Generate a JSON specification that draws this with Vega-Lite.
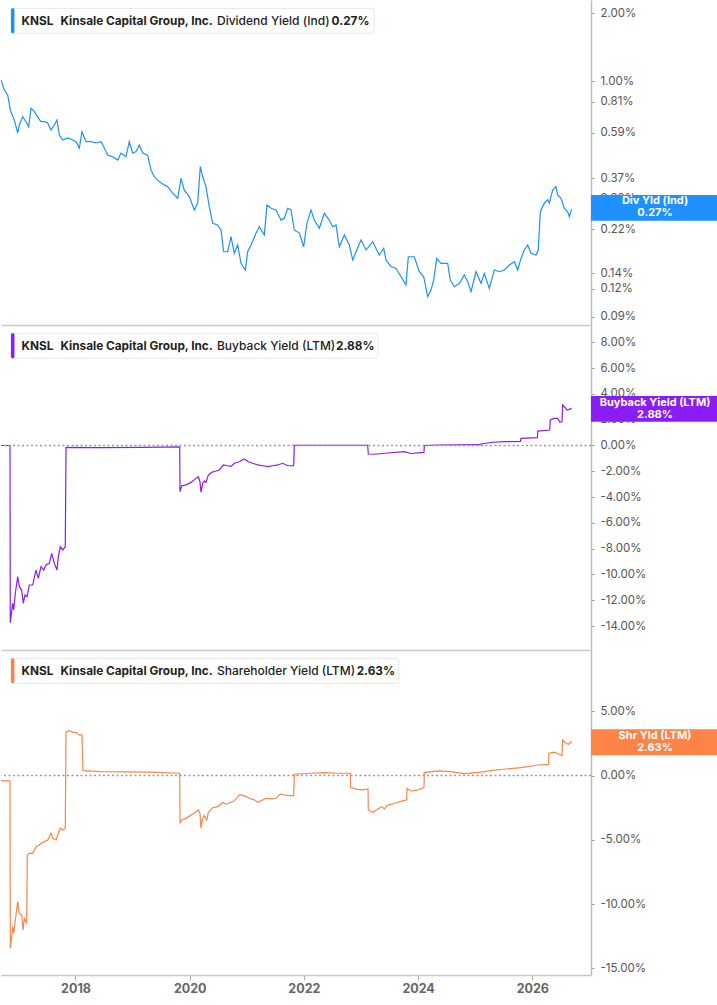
{
"$schema": "https://vega.github.io/schema/vega-lite/v6.json",
"padding": 0,
"background": "white",
"spacing": 0,
"config": {"view": {"stroke": null}, "font": "Inter",
 "axis": {"grid": false, "labelOverlap": false, "domainColor": "#bdbdbd", "domainWidth": 1.5, "tickColor": "#999999", "labelColor": "#555555", "labelFont": "Inter", "labelFontSize": 11.5}},
"datasets": {
"div": [
{"t":2016.695,"v":1.010},{"t":2016.753,"v":0.912},{"t":2016.813,"v":0.867},{"t":2016.858,"v":0.744},{"t":2016.928,"v":0.671},{"t":2016.988,"v":0.588},{"t":2017.016,"v":0.638},{"t":2017.075,"v":0.694},{"t":2017.133,"v":0.660},{"t":2017.180,"v":0.627},{"t":2017.221,"v":0.757},{"t":2017.279,"v":0.731},{"t":2017.338,"v":0.692},{"t":2017.396,"v":0.660},{"t":2017.454,"v":0.660},{"t":2017.513,"v":0.651},{"t":2017.571,"v":0.606},{"t":2017.629,"v":0.638},{"t":2017.676,"v":0.671},{"t":2017.716,"v":0.576},{"t":2017.776,"v":0.547},{"t":2017.863,"v":0.559},{"t":2017.951,"v":0.547},{"t":2018.009,"v":0.538},{"t":2018.067,"v":0.504},{"t":2018.114,"v":0.596},{"t":2018.184,"v":0.538},{"t":2018.271,"v":0.538},{"t":2018.359,"v":0.531},{"t":2018.447,"v":0.538},{"t":2018.504,"v":0.504},{"t":2018.564,"v":0.469},{"t":2018.651,"v":0.461},{"t":2018.739,"v":0.446},{"t":2018.797,"v":0.479},{"t":2018.884,"v":0.461},{"t":2018.942,"v":0.538},{"t":2019.002,"v":0.479},{"t":2019.060,"v":0.486},{"t":2019.117,"v":0.520},{"t":2019.177,"v":0.479},{"t":2019.264,"v":0.469},{"t":2019.322,"v":0.403},{"t":2019.380,"v":0.376},{"t":2019.468,"v":0.357},{"t":2019.555,"v":0.346},{"t":2019.615,"v":0.340},{"t":2019.702,"v":0.318},{"t":2019.790,"v":0.302},{"t":2019.848,"v":0.370},{"t":2019.905,"v":0.328},{"t":2019.993,"v":0.307},{"t":2020.081,"v":0.268},{"t":2020.140,"v":0.2875},{"t":2020.186,"v":0.417},{"t":2020.228,"v":0.376},{"t":2020.285,"v":0.340},{"t":2020.343,"v":0.277},{"t":2020.403,"v":0.2337},{"t":2020.490,"v":0.2297},{"t":2020.548,"v":0.2183},{"t":2020.595,"v":0.1748},{"t":2020.665,"v":0.1748},{"t":2020.723,"v":0.2038},{"t":2020.781,"v":0.1720},{"t":2020.841,"v":0.1873},{"t":2020.898,"v":0.1553},{"t":2020.974,"v":0.1450},{"t":2021.015,"v":0.1748},{"t":2021.074,"v":0.1873},{"t":2021.161,"v":0.2110},{"t":2021.219,"v":0.2258},{"t":2021.307,"v":0.2074},{"t":2021.354,"v":0.282},{"t":2021.424,"v":0.2724},{"t":2021.511,"v":0.268},{"t":2021.599,"v":0.2416},{"t":2021.657,"v":0.246},{"t":2021.716,"v":0.2724},{"t":2021.774,"v":0.268},{"t":2021.832,"v":0.2183},{"t":2021.920,"v":0.2116},{"t":2021.996,"v":0.1840},{"t":2022.054,"v":0.2344},{"t":2022.124,"v":0.268},{"t":2022.182,"v":0.2416},{"t":2022.270,"v":0.2221},{"t":2022.357,"v":0.259},{"t":2022.445,"v":0.2416},{"t":2022.504,"v":0.2258},{"t":2022.562,"v":0.2297},{"t":2022.620,"v":0.1840},{"t":2022.708,"v":0.2074},{"t":2022.795,"v":0.1873},{"t":2022.855,"v":0.1606},{"t":2022.912,"v":0.1748},{"t":2023.000,"v":0.1970},{"t":2023.088,"v":0.1779},{"t":2023.205,"v":0.1936},{"t":2023.320,"v":0.1690},{"t":2023.398,"v":0.1811},{"t":2023.438,"v":0.1606},{"t":2023.526,"v":0.1500},{"t":2023.613,"v":0.1476},{"t":2023.701,"v":0.1354},{"t":2023.788,"v":0.1245},{"t":2023.829,"v":0.1661},{"t":2023.933,"v":0.1661},{"t":2024.021,"v":0.1425},{"t":2024.098,"v":0.1354},{"t":2024.168,"v":0.1104},{"t":2024.226,"v":0.1182},{"t":2024.273,"v":0.1309},{"t":2024.326,"v":0.1634},{"t":2024.401,"v":0.1553},{"t":2024.518,"v":0.1553},{"t":2024.564,"v":0.1309},{"t":2024.634,"v":0.1223},{"t":2024.722,"v":0.1266},{"t":2024.809,"v":0.1378},{"t":2024.869,"v":0.1287},{"t":2024.927,"v":0.1162},{"t":2025.014,"v":0.1425},{"t":2025.102,"v":0.1266},{"t":2025.160,"v":0.1402},{"t":2025.247,"v":0.1203},{"t":2025.335,"v":0.1450},{"t":2025.422,"v":0.1425},{"t":2025.510,"v":0.1450},{"t":2025.597,"v":0.1526},{"t":2025.685,"v":0.1578},{"t":2025.744,"v":0.1450},{"t":2025.802,"v":0.1634},{"t":2025.860,"v":0.1779},{"t":2025.919,"v":0.1873},{"t":2025.977,"v":0.1720},{"t":2026.065,"v":0.1690},{"t":2026.105,"v":0.1779},{"t":2026.140,"v":0.263},{"t":2026.210,"v":0.287},{"t":2026.270,"v":0.297},{"t":2026.298,"v":0.2875},{"t":2026.357,"v":0.328},{"t":2026.415,"v":0.340},{"t":2026.445,"v":0.312},{"t":2026.503,"v":0.302},{"t":2026.561,"v":0.2724},{"t":2026.620,"v":0.263},{"t":2026.648,"v":0.250},{"t":2026.690,"v":0.27}
],
"bb": [
{"t":2016.695,"v":0},{"t":2016.853,"v":0},{"t":2016.858,"v":-13.74},{"t":2016.870,"v":-13.28},{"t":2016.900,"v":-12.24},{"t":2016.918,"v":-12.76},{"t":2016.946,"v":-11.46},{"t":2016.988,"v":-10.17},{"t":2017.016,"v":-10.95},{"t":2017.058,"v":-11.21},{"t":2017.086,"v":-12.24},{"t":2017.116,"v":-11.59},{"t":2017.151,"v":-11.73},{"t":2017.191,"v":-10.82},{"t":2017.250,"v":-10.82},{"t":2017.308,"v":-9.66},{"t":2017.349,"v":-10.30},{"t":2017.396,"v":-9.40},{"t":2017.443,"v":-9.66},{"t":2017.483,"v":-9.27},{"t":2017.541,"v":-9.14},{"t":2017.583,"v":-8.36},{"t":2017.629,"v":-9.14},{"t":2017.676,"v":-9.66},{"t":2017.699,"v":-8.62},{"t":2017.734,"v":-7.85},{"t":2017.776,"v":-8.10},{"t":2017.821,"v":-7.85},{"t":2017.834,"v":-0.14},{"t":2018.447,"v":-0.17},{"t":2019.147,"v":-0.15},{"t":2019.825,"v":-0.10},{"t":2019.830,"v":-3.58},{"t":2019.860,"v":-3.12},{"t":2019.935,"v":-3.06},{"t":2020.023,"v":-2.86},{"t":2020.110,"v":-2.55},{"t":2020.151,"v":-2.42},{"t":2020.180,"v":-2.81},{"t":2020.198,"v":-3.63},{"t":2020.228,"v":-2.93},{"t":2020.256,"v":-2.75},{"t":2020.285,"v":-2.86},{"t":2020.326,"v":-2.29},{"t":2020.385,"v":-2.08},{"t":2020.461,"v":-1.98},{"t":2020.518,"v":-1.90},{"t":2020.589,"v":-1.51},{"t":2020.665,"v":-1.57},{"t":2020.723,"v":-1.62},{"t":2020.781,"v":-1.38},{"t":2020.869,"v":-1.26},{"t":2020.956,"v":-1.05},{"t":2021.026,"v":-1.26},{"t":2021.103,"v":-1.38},{"t":2021.191,"v":-1.51},{"t":2021.278,"v":-1.57},{"t":2021.366,"v":-1.64},{"t":2021.454,"v":-1.57},{"t":2021.541,"v":-1.51},{"t":2021.629,"v":-1.38},{"t":2021.716,"v":-1.57},{"t":2021.821,"v":-1.57},{"t":2021.832,"v":0.02},{"t":2022.475,"v":0.02},{"t":2023.117,"v":0.02},{"t":2023.128,"v":-0.66},{"t":2023.233,"v":-0.68},{"t":2023.467,"v":-0.58},{"t":2023.758,"v":-0.48},{"t":2023.876,"v":-0.62},{"t":2024.103,"v":-0.53},{"t":2024.109,"v":0.0},{"t":2024.343,"v":0.04},{"t":2025.084,"v":0.06},{"t":2025.102,"v":0.12},{"t":2025.306,"v":0.25},{"t":2025.539,"v":0.30},{"t":2025.793,"v":0.32},{"t":2025.802,"v":0.56},{"t":2026.091,"v":0.61},{"t":2026.095,"v":1.12},{"t":2026.305,"v":1.20},{"t":2026.315,"v":1.98},{"t":2026.380,"v":2.10},{"t":2026.445,"v":2.11},{"t":2026.485,"v":1.80},{"t":2026.520,"v":1.85},{"t":2026.532,"v":3.14},{"t":2026.573,"v":2.95},{"t":2026.607,"v":2.75},{"t":2026.643,"v":2.80},{"t":2026.690,"v":2.88}
],
"shr": [
{"t":2016.695,"v":-0.42},{"t":2016.853,"v":-0.42},{"t":2016.858,"v":-13.44},{"t":2016.883,"v":-12.54},{"t":2016.900,"v":-11.76},{"t":2016.918,"v":-12.27},{"t":2016.946,"v":-11.24},{"t":2016.988,"v":-9.81},{"t":2017.016,"v":-10.72},{"t":2017.058,"v":-10.85},{"t":2017.081,"v":-12.02},{"t":2017.103,"v":-11.11},{"t":2017.145,"v":-11.49},{"t":2017.156,"v":-6.18},{"t":2017.191,"v":-6.05},{"t":2017.250,"v":-6.05},{"t":2017.308,"v":-5.53},{"t":2017.366,"v":-5.40},{"t":2017.396,"v":-5.27},{"t":2017.454,"v":-5.14},{"t":2017.513,"v":-5.01},{"t":2017.571,"v":-4.49},{"t":2017.601,"v":-4.88},{"t":2017.659,"v":-5.01},{"t":2017.688,"v":-4.62},{"t":2017.734,"v":-4.10},{"t":2017.776,"v":-4.23},{"t":2017.821,"v":-4.10},{"t":2017.834,"v":3.42},{"t":2017.891,"v":3.49},{"t":2017.951,"v":3.36},{"t":2018.009,"v":3.36},{"t":2018.067,"v":3.16},{"t":2018.114,"v":3.16},{"t":2018.131,"v":0.38},{"t":2018.447,"v":0.30},{"t":2019.322,"v":0.26},{"t":2019.825,"v":0.18},{"t":2019.830,"v":-3.71},{"t":2019.860,"v":-3.46},{"t":2019.935,"v":-3.33},{"t":2020.023,"v":-3.07},{"t":2020.110,"v":-2.81},{"t":2020.151,"v":-2.68},{"t":2020.180,"v":-2.94},{"t":2020.198,"v":-4.10},{"t":2020.228,"v":-3.33},{"t":2020.256,"v":-3.12},{"t":2020.298,"v":-3.46},{"t":2020.326,"v":-2.86},{"t":2020.403,"v":-2.50},{"t":2020.490,"v":-2.42},{"t":2020.578,"v":-2.08},{"t":2020.636,"v":-2.23},{"t":2020.723,"v":-2.08},{"t":2020.781,"v":-1.97},{"t":2020.869,"v":-1.51},{"t":2020.956,"v":-1.56},{"t":2021.044,"v":-1.77},{"t":2021.131,"v":-1.89},{"t":2021.191,"v":-2.08},{"t":2021.249,"v":-1.97},{"t":2021.336,"v":-1.77},{"t":2021.424,"v":-1.82},{"t":2021.511,"v":-1.77},{"t":2021.587,"v":-1.43},{"t":2021.657,"v":-1.51},{"t":2021.745,"v":-1.56},{"t":2021.821,"v":-1.56},{"t":2021.832,"v":0.10},{"t":2022.124,"v":0.18},{"t":2022.357,"v":0.23},{"t":2022.592,"v":0.18},{"t":2022.813,"v":0.18},{"t":2022.818,"v":-0.94},{"t":2022.942,"v":-1.07},{"t":2023.030,"v":-1.12},{"t":2023.123,"v":-1.04},{"t":2023.128,"v":-2.68},{"t":2023.205,"v":-2.86},{"t":2023.292,"v":-2.60},{"t":2023.362,"v":-2.42},{"t":2023.408,"v":-2.60},{"t":2023.467,"v":-2.29},{"t":2023.555,"v":-2.21},{"t":2023.643,"v":-2.08},{"t":2023.730,"v":-1.97},{"t":2023.800,"v":-1.89},{"t":2023.806,"v":-0.99},{"t":2023.876,"v":-1.20},{"t":2023.993,"v":-1.12},{"t":2024.103,"v":-0.94},{"t":2024.109,"v":0.23},{"t":2024.343,"v":0.36},{"t":2024.576,"v":0.31},{"t":2024.809,"v":0.15},{"t":2025.102,"v":0.26},{"t":2025.306,"v":0.41},{"t":2025.539,"v":0.51},{"t":2025.802,"v":0.61},{"t":2026.095,"v":0.82},{"t":2026.287,"v":0.87},{"t":2026.292,"v":1.74},{"t":2026.385,"v":1.82},{"t":2026.473,"v":1.66},{"t":2026.520,"v":1.56},{"t":2026.532,"v":2.77},{"t":2026.590,"v":2.51},{"t":2026.630,"v":2.43},{"t":2026.690,"v":2.63}
]
},
"vconcat": [
{
 "width": 590, "height": 325,
 "layer": [
  {"data": {"name": "div"}, "mark": {"type": "line", "color": "#1e90ff", "strokeWidth": 1.2, "clip": true},
   "encoding": {
    "x": {"field": "t", "type": "quantitative", "scale": {"domain": [2016.6953, 2027.028], "nice": false, "zero": false}, "axis": {"title": null, "labels": false, "ticks": false, "domainColor": "#c8c8c8"}},
    "y": {"field": "v", "type": "quantitative", "scale": {"type": "log", "domain": [0.0827, 2.288], "nice": false}, "axis": {"orient": "right", "title": null, "values": [2, 1, 0.81, 0.59, 0.37, 0.3, 0.22, 0.14, 0.12, 0.09], "tickCount": 30, "labelExpr": "(datum.value < 0 ? '-' : '') + format(abs(datum.value), '.2f') + '%'", "tickSize": 3, "labelPadding": 6, "labelOverlap": false, "labelFlush": false}}
   }},
  {"data": {"values": [{}]}, "mark": {"type": "rect", "fill": "#ffffff", "stroke": "#e6e6e6", "strokeWidth": 1, "cornerRadius": 3},
   "encoding": {"x": {"datum": 2016.87, "type": "quantitative"}, "x2": {"datum": 2023.228}, "y": {"datum": 2.101, "type": "quantitative"}, "y2": {"datum": 1.628}}},
  {"data": {"values": [{}]}, "mark": {"type": "rect", "fill": "#1e90ff", "cornerRadius": 1.5},
   "encoding": {"x": {"datum": 2016.87, "type": "quantitative"}, "x2": {"datum": 2016.931}, "y": {"datum": 2.101, "type": "quantitative"}, "y2": {"datum": 1.628}}},
  {"data": {"values": [{}]}, "mark": {"type": "text", "align": "left", "baseline": "middle", "font": "Inter", "fontSize": 11.8, "fontWeight": "bold", "color": "#222222"},
   "encoding": {"x": {"datum": 2017.056, "type": "quantitative"}, "y": {"datum": 1.851, "type": "quantitative"}, "text": {"value": "KNSL"}}},
  {"data": {"values": [{}]}, "mark": {"type": "text", "align": "left", "baseline": "middle", "font": "Inter", "fontSize": 11.8, "fontWeight": "bold", "color": "#222222"},
   "encoding": {"x": {"datum": 2017.736, "type": "quantitative"}, "y": {"datum": 1.851, "type": "quantitative"}, "text": {"value": "Kinsale Capital Group, Inc."}}},
  {"data": {"values": [{}]}, "mark": {"type": "text", "align": "left", "baseline": "middle", "font": "Inter", "fontSize": 12, "fontWeight": 500, "color": "#222222"},
   "encoding": {"x": {"datum": 2020.478, "type": "quantitative"}, "y": {"datum": 1.851, "type": "quantitative"}, "text": {"value": "Dividend Yield (Ind)"}}},
  {"data": {"values": [{}]}, "mark": {"type": "text", "align": "left", "baseline": "middle", "font": "Inter", "fontSize": 11.8, "fontWeight": "bold", "color": "#222222"},
   "encoding": {"x": {"datum": 2022.485, "type": "quantitative"}, "y": {"datum": 1.851, "type": "quantitative"}, "text": {"value": "0.27%"}}},
  {"data": {"values": [{}]}, "mark": {"type": "rect", "fill": "#1e90ff"},
   "encoding": {"x": {"datum": 2027.028, "type": "quantitative"}, "x2": {"datum": 2029.252}, "y": {"datum": 0.312, "type": "quantitative"}, "y2": {"datum": 0.240}}},
  {"data": {"values": [{}]}, "mark": {"type": "text", "align": "center", "baseline": "middle", "font": "Inter", "fontSize": 11, "fontWeight": "bold", "color": "#ffffff", "lineHeight": 12, "dy": -6},
   "encoding": {"x": {"datum": 2028.149, "type": "quantitative"}, "y": {"datum": 0.2747, "type": "quantitative"}, "text": {"value": ["Div Yld (Ind)", "0.27%"]}}}
 ]
},
{
 "width": 590, "height": 325,
 "layer": [
  {"data": {"name": "bb"}, "mark": {"type": "line", "color": "#8a1cf6", "strokeWidth": 1.2, "clip": true},
   "encoding": {
    "x": {"field": "t", "type": "quantitative", "scale": {"domain": [2016.6953, 2027.028], "nice": false, "zero": false}, "axis": {"title": null, "labels": false, "ticks": false, "domainColor": "#c8c8c8"}},
    "y": {"field": "v", "type": "quantitative", "scale": {"domain": [-15.86, 9.345], "nice": false, "zero": false}, "axis": {"orient": "right", "title": null, "values": [8, 6, 4, 2, 0, -2, -4, -6, -8, -10, -12, -14], "tickCount": 30, "labelExpr": "(datum.value < 0 ? '-' : '') + format(abs(datum.value), '.2f') + '%'", "tickSize": 3, "labelPadding": 6, "labelOverlap": false, "labelFlush": false}}
   }},
  {"data": {"values": [{}]}, "mark": {"type": "rule", "color": "#999999", "strokeWidth": 1.5, "strokeDash": [2, 2.5]},
   "encoding": {"y": {"datum": 0, "type": "quantitative"}}},
  {"data": {"values": [{}]}, "mark": {"type": "rect", "fill": "#ffffff", "stroke": "#e6e6e6", "strokeWidth": 1, "cornerRadius": 3},
   "encoding": {"x": {"datum": 2016.87, "type": "quantitative"}, "x2": {"datum": 2023.298}, "y": {"datum": 8.70, "type": "quantitative"}, "y2": {"datum": 6.76}}},
  {"data": {"values": [{}]}, "mark": {"type": "rect", "fill": "#8a1cf6", "cornerRadius": 1.5},
   "encoding": {"x": {"datum": 2016.87, "type": "quantitative"}, "x2": {"datum": 2016.931}, "y": {"datum": 8.70, "type": "quantitative"}, "y2": {"datum": 6.76}}},
  {"data": {"values": [{}]}, "mark": {"type": "text", "align": "left", "baseline": "middle", "font": "Inter", "fontSize": 11.8, "fontWeight": "bold", "color": "#222222"},
   "encoding": {"x": {"datum": 2017.056, "type": "quantitative"}, "y": {"datum": 7.74, "type": "quantitative"}, "text": {"value": "KNSL"}}},
  {"data": {"values": [{}]}, "mark": {"type": "text", "align": "left", "baseline": "middle", "font": "Inter", "fontSize": 11.8, "fontWeight": "bold", "color": "#222222"},
   "encoding": {"x": {"datum": 2017.736, "type": "quantitative"}, "y": {"datum": 7.74, "type": "quantitative"}, "text": {"value": "Kinsale Capital Group, Inc."}}},
  {"data": {"values": [{}]}, "mark": {"type": "text", "align": "left", "baseline": "middle", "font": "Inter", "fontSize": 12, "fontWeight": 500, "color": "#222222"},
   "encoding": {"x": {"datum": 2020.478, "type": "quantitative"}, "y": {"datum": 7.74, "type": "quantitative"}, "text": {"value": "Buyback Yield (LTM)"}}},
  {"data": {"values": [{}]}, "mark": {"type": "text", "align": "left", "baseline": "middle", "font": "Inter", "fontSize": 11.8, "fontWeight": "bold", "color": "#222222"},
   "encoding": {"x": {"datum": 2022.562, "type": "quantitative"}, "y": {"datum": 7.74, "type": "quantitative"}, "text": {"value": "2.88%"}}},
  {"data": {"values": [{}]}, "mark": {"type": "rect", "fill": "#8a1cf6"},
   "encoding": {"x": {"datum": 2027.028, "type": "quantitative"}, "x2": {"datum": 2029.252}, "y": {"datum": 3.839, "type": "quantitative"}, "y2": {"datum": 1.846}}},
  {"data": {"values": [{}]}, "mark": {"type": "text", "align": "center", "baseline": "middle", "font": "Inter", "fontSize": 11, "fontWeight": "bold", "color": "#ffffff", "lineHeight": 12, "dy": -6},
   "encoding": {"x": {"datum": 2028.149, "type": "quantitative"}, "y": {"datum": 2.84, "type": "quantitative"}, "text": {"value": ["Buyback Yield (LTM)", "2.88%"]}}}
 ]
},
{
 "width": 590, "height": 325,
 "layer": [
  {"data": {"name": "shr"}, "mark": {"type": "line", "color": "#fd8446", "strokeWidth": 1.2, "clip": true},
   "encoding": {
    "x": {"field": "t", "type": "quantitative", "scale": {"domain": [2016.6953, 2027.028], "nice": false, "zero": false}, "axis": {"title": null, "values": [2018, 2020, 2022, 2024, 2026], "tickCount": 30, "format": "d", "labelFontWeight": "bold", "labelColor": "#666666", "labelFontSize": 12.5, "tickSize": 5, "tickColor": "#aaaaaa", "labelPadding": 2, "domainColor": "#c8c8c8", "labelFlush": false}},
    "y": {"field": "v", "type": "quantitative", "scale": {"domain": [-15.52, 9.77], "nice": false, "zero": false}, "axis": {"orient": "right", "title": null, "values": [5, 0, -5, -10, -15], "tickCount": 30, "labelExpr": "(datum.value < 0 ? '-' : '') + format(abs(datum.value), '.2f') + '%'", "tickSize": 3, "labelPadding": 6, "labelOverlap": false, "labelFlush": false}}
   }},
  {"data": {"values": [{}]}, "mark": {"type": "rule", "color": "#999999", "strokeWidth": 1.5, "strokeDash": [2, 2.5]},
   "encoding": {"y": {"datum": 0, "type": "quantitative"}}},
  {"data": {"values": [{}]}, "mark": {"type": "rect", "fill": "#ffffff", "stroke": "#e6e6e6", "strokeWidth": 1, "cornerRadius": 3},
   "encoding": {"x": {"datum": 2016.87, "type": "quantitative"}, "x2": {"datum": 2023.662}, "y": {"datum": 9.13, "type": "quantitative"}, "y2": {"datum": 7.18}}},
  {"data": {"values": [{}]}, "mark": {"type": "rect", "fill": "#fd8446", "cornerRadius": 1.5},
   "encoding": {"x": {"datum": 2016.87, "type": "quantitative"}, "x2": {"datum": 2016.931}, "y": {"datum": 9.13, "type": "quantitative"}, "y2": {"datum": 7.18}}},
  {"data": {"values": [{}]}, "mark": {"type": "text", "align": "left", "baseline": "middle", "font": "Inter", "fontSize": 11.8, "fontWeight": "bold", "color": "#222222"},
   "encoding": {"x": {"datum": 2017.056, "type": "quantitative"}, "y": {"datum": 8.16, "type": "quantitative"}, "text": {"value": "KNSL"}}},
  {"data": {"values": [{}]}, "mark": {"type": "text", "align": "left", "baseline": "middle", "font": "Inter", "fontSize": 11.8, "fontWeight": "bold", "color": "#222222"},
   "encoding": {"x": {"datum": 2017.736, "type": "quantitative"}, "y": {"datum": 8.16, "type": "quantitative"}, "text": {"value": "Kinsale Capital Group, Inc."}}},
  {"data": {"values": [{}]}, "mark": {"type": "text", "align": "left", "baseline": "middle", "font": "Inter", "fontSize": 12, "fontWeight": 500, "color": "#222222"},
   "encoding": {"x": {"datum": 2020.478, "type": "quantitative"}, "y": {"datum": 8.16, "type": "quantitative"}, "text": {"value": "Shareholder Yield (LTM)"}}},
  {"data": {"values": [{}]}, "mark": {"type": "text", "align": "left", "baseline": "middle", "font": "Inter", "fontSize": 11.8, "fontWeight": "bold", "color": "#222222"},
   "encoding": {"x": {"datum": 2022.924, "type": "quantitative"}, "y": {"datum": 8.16, "type": "quantitative"}, "text": {"value": "2.63%"}}},
  {"data": {"values": [{}]}, "mark": {"type": "rect", "fill": "#fd8446"},
   "encoding": {"x": {"datum": 2027.028, "type": "quantitative"}, "x2": {"datum": 2029.252}, "y": {"datum": 3.603, "type": "quantitative"}, "y2": {"datum": 1.580}}},
  {"data": {"values": [{}]}, "mark": {"type": "text", "align": "center", "baseline": "middle", "font": "Inter", "fontSize": 11, "fontWeight": "bold", "color": "#ffffff", "lineHeight": 12, "dy": -6},
   "encoding": {"x": {"datum": 2028.149, "type": "quantitative"}, "y": {"datum": 2.59, "type": "quantitative"}, "text": {"value": ["Shr Yld (LTM)", "2.63%"]}}}
 ]
}
]
}
